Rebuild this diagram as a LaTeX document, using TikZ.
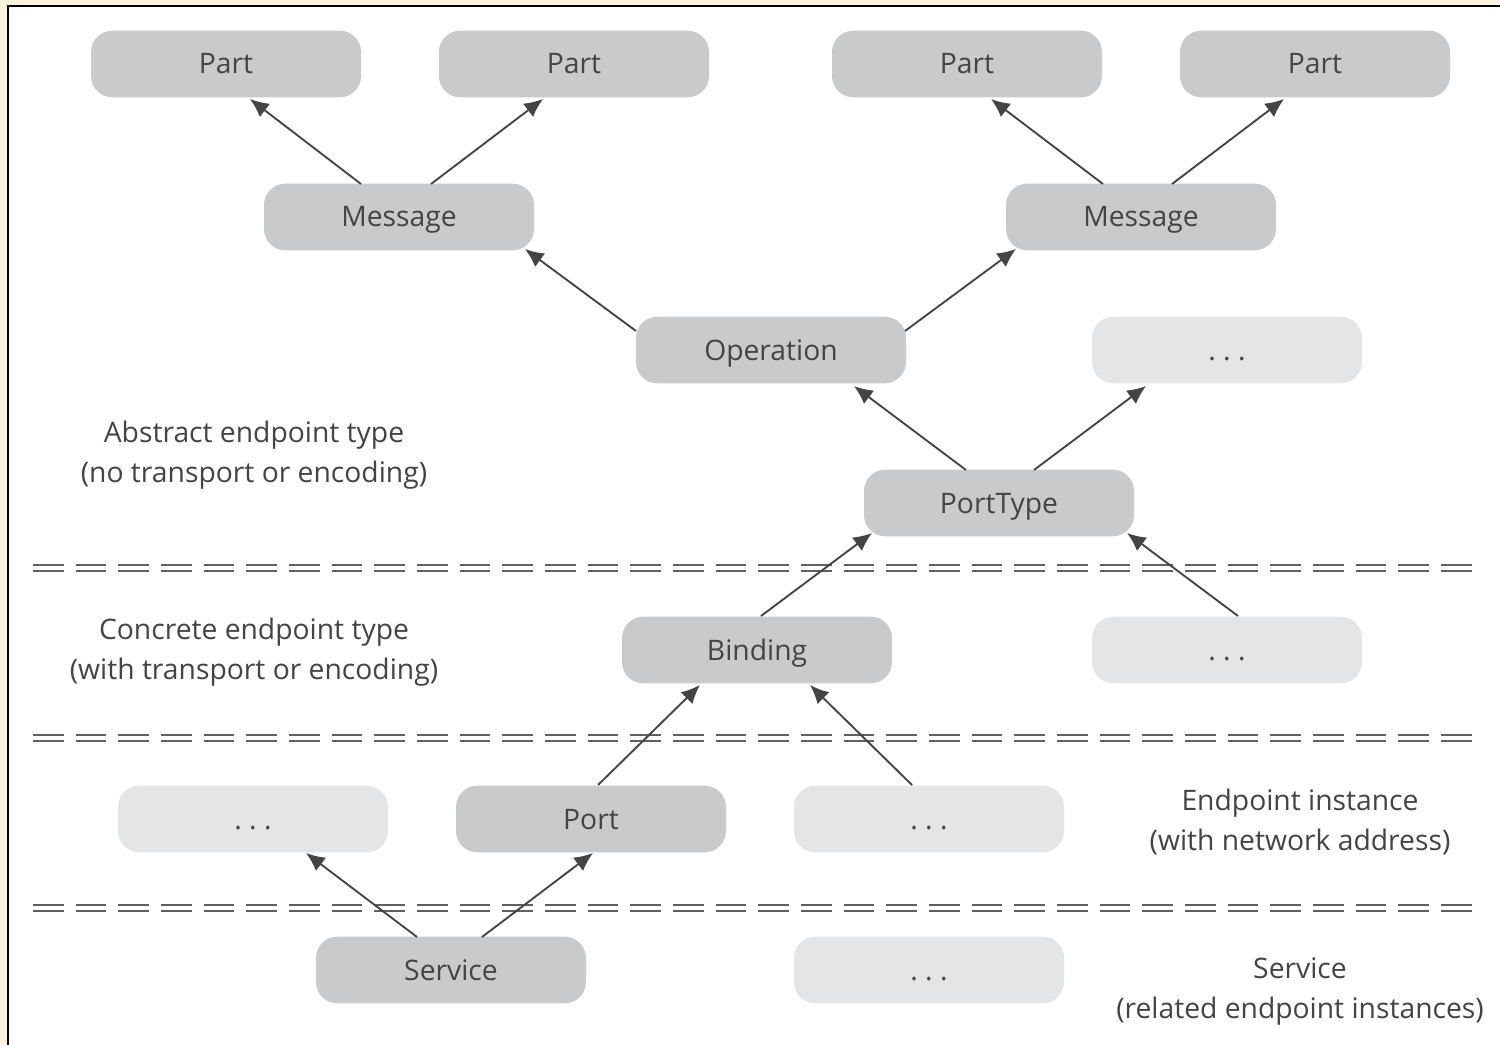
\documentclass[tikz,border=0pt]{standalone}
\usepackage{fontspec}
\setmainfont{Open Sans}
\usetikzlibrary{arrows.meta,calc}

\definecolor{boxgray}{HTML}{C9CACC}
\definecolor{boxlight}{HTML}{E4E5E6}
\definecolor{inkgray}{HTML}{444444}
\definecolor{paper}{HTML}{FAF2DC}

\begin{document}
\begin{tikzpicture}[
  x=0.75pt, y=-0.75pt,
  font=\fontsize{21.2}{30}\selectfont,
  block/.style={rounded corners=16pt, fill=boxgray, minimum width=202.5pt, minimum height=50pt, text=inkgray, text height=15pt, text depth=0pt, align=center},
  more/.style={block, fill=boxlight},
  note/.style={align=center, text=inkgray},
  arr/.style={-{Latex[length=14pt, width=12.5pt]}, line width=1.4pt, draw=inkgray},
  divider/.style={draw=inkgray!85, line width=1.5pt, double=white, double distance=2.4pt, dash pattern=on 23pt off 9pt}
]

\useasboundingbox (0,0) rectangle (1500,1045);

% ---------- Frame ----------
\fill[paper] (0,0) rectangle (1500,1045);
\fill[white] (8,6) rectangle (1500,1045);
\draw[line width=1.5pt] (8,1045) -- (8,6) -- (1500,6);

% ---------- Abstract endpoint type ----------
\node[block] (partA) at (226,64)  {Part};
\node[block] (partB) at (574,64)  {Part};
\node[block] (partC) at (967,64)  {Part};
\node[block] (partD) at (1315,64) {Part};

\node[block] (msgA) at (399,217)  {Message};
\node[block] (msgB) at (1141,217) {Message};

\node[block] (oper)     at (771,350)  {Operation};
\node[more]  (operMore) at (1227,350) {.\ .\ .};

\node[block] (ptype) at (999,503) {PortType};

\node[note] (abstractLbl) at (254,455) {Abstract endpoint type\\(no transport or encoding)};

\draw[arr] ($(msgA)+(-38,-33)$) -- ($(partA)+(24,35)$);
\draw[arr] ($(msgA)+(32,-33)$)  -- ($(partB)+(-31,35)$);
\draw[arr] ($(msgB)+(-38,-33)$) -- ($(partC)+(24,35)$);
\draw[arr] ($(msgB)+(31,-33)$)  -- ($(partD)+(-31,35)$);

\draw[arr] ($(oper)+(-135,-19)$) -- ($(msgA)+(126,32)$);
\draw[arr] ($(oper)+(134,-19)$)  -- ($(msgB)+(-125,32)$);

\draw[arr] ($(ptype)+(-33,-33)$) -- ($(oper)+(83,36)$);
\draw[arr] ($(ptype)+(35,-33)$)  -- ($(operMore)+(-81,36)$);

% ---------- Concrete endpoint type ----------
\draw[divider] (33,568) -- (1475,568);

\node[block] (bind)     at (757,650)  {Binding};
\node[more]  (bindMore) at (1227,650) {.\ .\ .};

\node[note] (concreteLbl) at (254,652) {Concrete endpoint type\\(with transport or encoding)};

\draw[arr] ($(bind)+(4,-34)$)      -- ($(ptype)+(-127,30)$);
\draw[arr] ($(bindMore)+(11,-34)$) -- ($(ptype)+(128,30)$);

% ---------- Endpoint instance ----------
\draw[divider] (33,738) -- (1475,738);

\node[more]  (portMoreA) at (253,819) {.\ .\ .};
\node[block] (port)      at (591,819) {Port};
\node[more]  (portMoreB) at (929,819) {.\ .\ .};

\node[note] (instanceLbl) at (1300,822) {Endpoint instance\\(with network address)};

\draw[arr] ($(port)+(7,-34)$)        -- ($(bind)+(-57,35)$);
\draw[arr] ($(portMoreB)+(-17,-34)$) -- ($(bind)+(53,35)$);

% ---------- Service ----------
\draw[divider] (33,908) -- (1475,908);

\node[block] (serv)     at (451,970) {Service};
\node[more]  (servMore) at (929,970) {.\ .\ .};

\node[note] (serviceLbl) at (1300,992) {Service\\(related endpoint instances)};

\draw[arr] ($(serv)+(-34,-33)$) -- ($(portMoreA)+(53,34)$);
\draw[arr] ($(serv)+(31,-33)$)  -- ($(port)+(2,34)$);

\end{tikzpicture}
\end{document}
